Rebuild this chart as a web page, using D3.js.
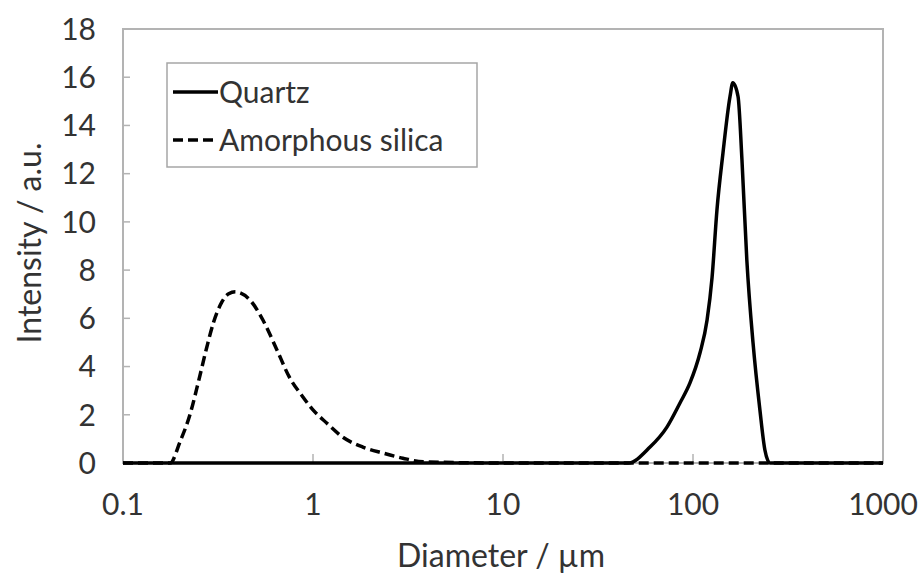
<!DOCTYPE html>
<html>
<head>
<meta charset="utf-8">
<script src="https://cdn.jsdelivr.net/npm/d3@7"></script>
<style>
  body { margin: 0; background: #fff; }
  text { font-family: Lato, "Open Sans", sans-serif; fill: #333; }
</style>
</head>
<body>
<div id="chart"></div>
<script>
// particle size distributions (diameter in µm, intensity in a.u.)
var quartzD = [0.1, 1, 10, 45.5, 59.4, 72.9, 85.4, 96.4, 108.8, 118.6, 126, 133.7, 143.8, 156.6, 162, 172.6, 181, 192, 207, 225, 239, 254, 400, 1000];
var quartzI = [0, 0, 0, 0, 0.66, 1.49, 2.49, 3.32, 4.56, 5.93, 7.7, 10.5, 12.86, 15.2, 15.77, 15.2, 12.57, 8.42, 4.98, 2.2, 0.54, 0, 0, 0];

var silicaD = [0.1, 0.177, 0.2, 0.225, 0.25, 0.275, 0.3, 0.33, 0.36, 0.39, 0.466, 0.545, 0.646, 0.75, 0.885, 1.0, 1.18, 1.43, 1.83, 2.34, 2.97, 3.8, 10, 100, 1000];
var silicaI = [0, 0, 0.9, 2.0, 3.4, 4.75, 5.85, 6.65, 7.02, 7.1, 6.76, 5.93, 4.69, 3.57, 2.74, 2.2, 1.66, 1.08, 0.66, 0.41, 0.2, 0.05, 0, 0, 0];

var xTicks = [0.1, 1, 10, 100, 1000];
var yTicks = [0, 2, 4, 6, 8, 10, 12, 14, 16, 18];
var seriesNames = ['Quartz', 'Amorphous silica'];

var margin = {top: 29, right: 41, bottom: 113, left: 123};
var width = 924 - margin.left - margin.right;
var height = 576 - margin.top - margin.bottom;

var svg = d3.select('#chart').append('svg')
  .attr('width', 924)
  .attr('height', 576)
.append('g')
  .attr('transform', 'translate(' + margin.left + ',' + margin.top + ')');

var x = d3.scaleLog()
  .domain([0.1, 1000])
  .range([0, width]);

var y = d3.scaleLinear()
  .domain([0, 18])
  .range([height, 0]);

// plot frame
svg.append('rect')
  .attr('width', width)
  .attr('height', height)
  .attr('fill', 'none')
  .attr('stroke', '#b3b3b3')
  .attr('stroke-width', 2);

// inward ticks
svg.selectAll('.ytick')
  .data(yTicks)
  .enter().append('line')
  .attr('x1', 0).attr('x2', 7)
  .attr('y1', function(d) { return y(d); })
  .attr('y2', function(d) { return y(d); })
  .attr('stroke', '#b3b3b3')
  .attr('stroke-width', 1.5);

svg.selectAll('.xtick')
  .data(xTicks)
  .enter().append('line')
  .attr('x1', function(d) { return x(d); })
  .attr('x2', function(d) { return x(d); })
  .attr('y1', height).attr('y2', height - 9)
  .attr('stroke', '#b3b3b3')
  .attr('stroke-width', 1.5);

// tick labels
svg.selectAll('.ylab')
  .data(yTicks)
  .enter().append('text')
  .attr('x', -27)
  .attr('y', function(d) { return y(d); })
  .attr('dy', '0.36em')
  .attr('text-anchor', 'end')
  .attr('font-size', '30px')
  .text(function(d) { return d; });

svg.selectAll('.xlab')
  .data(xTicks)
  .enter().append('text')
  .attr('x', function(d) { return x(d); })
  .attr('y', height + 52)
  .attr('text-anchor', 'middle')
  .attr('font-size', '30px')
  .text(function(d) { return d; });

// axis titles
svg.append('text')
  .attr('x', width / 2 - 2)
  .attr('y', height + 104)
  .attr('text-anchor', 'middle')
  .attr('font-size', '32px')
  .text('Diameter / µm');

svg.append('text')
  .attr('transform', 'translate(-82,' + (y(9) - 3) + ') rotate(-90)')
  .attr('text-anchor', 'middle')
  .attr('font-size', '32px')
  .text('Intensity / a.u.');

var line = d3.line()
  .x(function(d) { return x(d[0]); })
  .y(function(d) { return y(d[1]); })
  .curve(d3.curveMonotoneX);

svg.append('path')
  .datum(d3.zip(silicaD, silicaI))
  .attr('d', line)
  .attr('fill', 'none')
  .attr('stroke', '#000')
  .attr('stroke-width', 3.5)
  .attr('stroke-dasharray', '10,5');

svg.append('path')
  .datum(d3.zip(quartzD, quartzI))
  .attr('d', line)
  .attr('fill', 'none')
  .attr('stroke', '#000')
  .attr('stroke-width', 3.5);

// legend
var legend = svg.append('g')
  .attr('transform', 'translate(' + (167 - margin.left) + ',' + (63 - margin.top) + ')');

legend.append('rect')
  .attr('width', 310)
  .attr('height', 104)
  .attr('fill', '#fff')
  .attr('stroke', '#a6a6a6')
  .attr('stroke-width', 1.5);

var rows = legend.selectAll('.row')
  .data(seriesNames)
  .enter().append('g')
  .attr('transform', function(d, i) { return 'translate(0,' + (29 + i * 48) + ')'; });

rows.append('line')
  .attr('x1', 6).attr('x2', 51)
  .attr('stroke', '#000')
  .attr('stroke-width', 3.5)
  .attr('stroke-dasharray', function(d, i) { return i === 1 ? '10,5' : null; });

rows.append('text')
  .attr('x', 52)
  .attr('dy', '0.36em')
  .attr('font-size', '30px')
  .text(function(d) { return d; });
</script>
</body>
</html>
